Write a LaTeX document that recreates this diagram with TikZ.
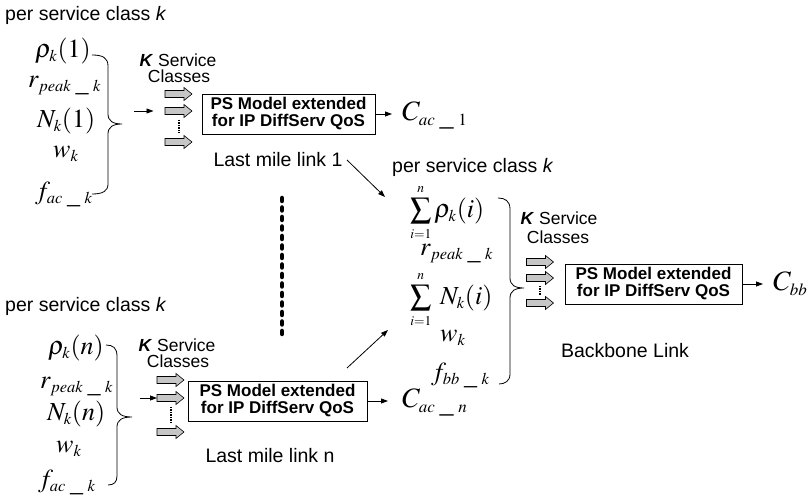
\documentclass[tikz,border=0pt]{standalone}
\usepackage{fontspec}
\usepackage{mathptmx}
\usepackage{graphicx}
\setmainfont{Liberation Serif}
\setsansfont{Liberation Sans}
\DeclareMathSizes{26}{26}{16.5}{13.5}
\DeclareMathSizes{28}{28}{17}{13}
\usetikzlibrary{arrows.meta}
\tikzset{
  lbl/.style={font=\fontsize{19.5}{22}\selectfont\sffamily, inner sep=0pt, anchor=base west},
  ksc/.style={font=\fontsize{17.5}{20}\selectfont\sffamily, inner sep=0pt, anchor=base},
  mth/.style={font=\fontsize{26}{28}\selectfont, inner sep=0pt, anchor=base west},
  cmth/.style={font=\fontsize{28}{30}\selectfont, inner sep=0pt, anchor=base west},
  psbox/.style={draw, line width=0.8pt, font=\fontsize{17}{17}\selectfont\sffamily\bfseries,
    align=center, minimum height=40pt, inner sep=0pt},
  blkst/.style={draw=black, fill=gray!45, line width=0.6pt, line join=miter},
  arr/.style={-{Triangle[length=7pt,width=5pt]}, line width=0.8pt},
  brc/.style={line width=0.8pt},
  smalldots/.style={line width=2pt, dash pattern=on 1.2pt off 1.3pt},
  bigdots/.style={line width=4.5pt, line cap=round, dash pattern=on 3pt off 6.5pt}
}
\newcommand\blkarrow[3]{%
  \coordinate (#1) at (#2,#3);
  \draw[blkst] (#1) ++(-13.5,-3.5) -- ++(19,0) -- ++(0,-3) -- ++(8,6.5) -- ++(-8,6.5)
    -- ++(0,-3) -- ++(-19,0) -- cycle;}
\newcommand\bigsum{\mathop{\scalebox{1.15}{$\sum$}}\limits}
\newcommand\us{\mkern5mu\_\mkern5mu}
\begin{document}
\begin{tikzpicture}[x=1pt,y=-1pt]
\useasboundingbox (0,0) rectangle (812,502);

% ---------- top block ----------
\node[lbl] (pc1) at (5,21) {per service class \textit{k}};
\node[mth] (rho1) at (35,58) {$\rho_k(1)$};
\node[mth] (rp1) at (28,88) {$r_{peak\us k}$};
\node[mth] (n1) at (37,128) {$N_k(1)$};
\node[mth] (w1) at (53,158) {$w_k$};
\node[mth] (f1) at (35,200) {$f_{ac\us k}$};
\draw[brc] (92,55) .. controls (103,55) and (108,58) .. (108,66) -- (108,114)
  .. controls (108,121) and (113,124) .. (122,124)
  .. controls (113,124) and (108,127) .. (108,134) -- (108,184)
  .. controls (108,191) and (103,194) .. (92,194);
\node[ksc] (ks1) at (178,67) {\textbf{\textit{K}} Service};
\node[ksc] (cl1) at (179,83) {Classes};
\blkarrow{a11}{178.5}{94}
\blkarrow{a12}{178.5}{111}
\blkarrow{a13}{178.5}{142}
\draw[smalldots] ([yshift=-9pt]a12) -- ([yshift=9pt]a13);
\coordinate (in1) at (134,111);
\draw[arr] (in1) -- ([xshift=-25pt]a12);
\node[psbox, minimum width=173pt] (box1) at (288.5,114) {PS Model extended\\for IP DiffServ QoS};
\node[cmth] (c1) at (402,121) {$C_{ac\us 1}$};
\coordinate (c1in) at (392,114);
\draw[arr] (box1.east) -- (c1in);
\node[lbl, anchor=base] (lm1) at (278,167) {Last mile link 1};
\coordinate (d1s) at (347,160);
\coordinate (d1e) at (385,197);
\draw[arr] (d1s) -- (d1e);

% ---------- middle dots ----------
\coordinate (dtop) at (282,198);
\coordinate (dbot) at (282,340);
\draw[bigdots] (dtop) -- (dbot);

% ---------- lower block ----------
\node[lbl] (pc2) at (5,312) {per service class \textit{k}};
\node[mth] (rho2) at (48,355) {$\rho_k(n)$};
\node[mth] (rp2) at (40,389) {$r_{peak\us k}$};
\node[mth] (n2) at (47,421) {$N_k(n)$};
\node[mth] (w2) at (56,453) {$w_k$};
\node[mth] (f2) at (38,488) {$f_{ac\us k}$};
\draw[brc] (106,345) .. controls (113,345) and (117,348) .. (117,356) -- (117,407)
  .. controls (117,414) and (122,417) .. (132,417)
  .. controls (122,417) and (117,420) .. (117,427) -- (117,476)
  .. controls (117,482) and (114,485) .. (108,485);
\node[ksc] (ks2) at (177,352) {\textbf{\textit{K}} Service};
\node[ksc] (cl2) at (178,368) {Classes};
\blkarrow{a21}{170.5}{380}
\blkarrow{a22}{170.5}{398}
\blkarrow{a23}{170.5}{432}
\draw[smalldots] ([yshift=-9pt]a22) -- ([yshift=9pt]a23);
\coordinate (in2) at (140,398);
\draw[arr] (in2) -- ([xshift=-13.5pt]a22);
\node[psbox, minimum width=179pt] (box2) at (277.5,401) {PS Model extended\\for IP DiffServ QoS};
\node[cmth] (c2) at (402,408) {$C_{ac\us n}$};
\coordinate (c2in) at (388,401);
\draw[arr] (box2.east) -- (c2in);
\node[lbl, anchor=base] (lmn) at (270,463) {Last mile link n};
\coordinate (d2s) at (347,368);
\coordinate (d2e) at (388,330);
\draw[arr] (d2s) -- (d2e);

% ---------- right block ----------
\node[lbl] (pc3) at (392,173) {per service class \textit{k}};
\node[mth] (srho) at (410,218) {$\bigsum_{\scriptscriptstyle i=1}^{\scriptscriptstyle n}\rho_k(i)$};
\node[mth] (rp3) at (420,256) {$r_{peak\us k}$};
\node[mth] (sn) at (410,305) {$\bigsum_{\scriptscriptstyle i=1}^{\scriptscriptstyle n}\;N_k(i)$};
\node[mth] (w3) at (440,342) {$w_k$};
\node[mth] (f3) at (431,381) {$f_{bb\us k}$};
\draw[brc] (498,198) .. controls (505,198) and (510,201) .. (510,209) -- (510,278)
  .. controls (510,285) and (515,288) .. (524,288)
  .. controls (515,288) and (510,291) .. (510,298) -- (510,374)
  .. controls (510,381) and (505,384) .. (499,384);
\node[ksc] (ks3) at (559,225) {\textbf{\textit{K}} Service};
\node[ksc] (cl3) at (558,244) {Classes};
\blkarrow{a31}{540}{262}
\blkarrow{a32}{540}{278}
\blkarrow{a33}{540}{303}
\draw[smalldots] ([yshift=-8pt]a32) -- ([yshift=8pt]a33);
\node[psbox, minimum width=177pt] (box3) at (653.5,284) {PS Model extended\\for IP DiffServ QoS};
\node[cmth] (c3) at (773,291) {$C_{bb}$};
\coordinate (c3in) at (763,284);
\draw[arr] (box3.east) -- (c3in);
\node[lbl, anchor=base] (bbl) at (625,358) {Backbone Link};
\end{tikzpicture}
\end{document}
